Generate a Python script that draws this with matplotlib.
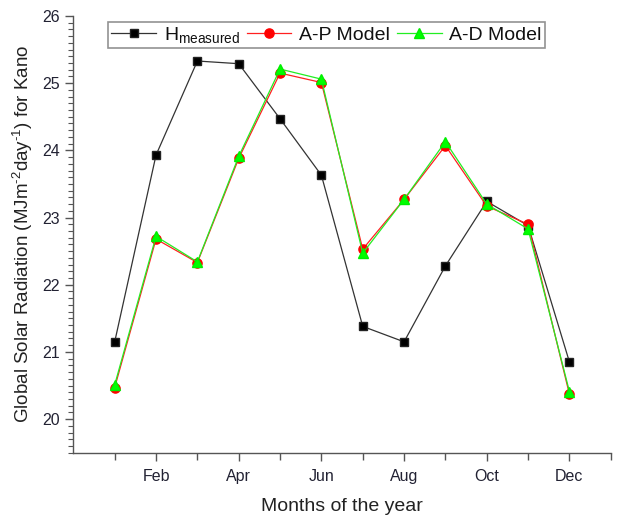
import matplotlib
matplotlib.use("Agg")
import matplotlib.pyplot as plt
from matplotlib.ticker import MultipleLocator, FixedLocator, FixedFormatter

plt.rcParams['font.family'] = ['Liberation Sans', 'DejaVu Sans']
plt.rcParams['mathtext.fontset'] = 'custom'
plt.rcParams['mathtext.rm'] = 'Liberation Sans'
plt.rcParams['mathtext.it'] = 'Liberation Sans'

months = [1, 2, 3, 4, 5, 6, 7, 8, 9, 10, 11, 12]
month_ticks = [2, 4, 6, 8, 10, 12]
month_labels = ["Feb", "Apr", "Jun", "Aug", "Oct", "Dec"]

h_measured = [21.15, 23.93, 25.33, 25.29, 24.47, 23.63, 21.38, 21.15, 22.28, 23.24, 22.88, 20.85]
ap_model = [20.47, 22.68, 22.33, 23.88, 25.15, 25.01, 22.53, 23.27, 24.07, 23.17, 22.90, 20.37]
ad_model = [20.51, 22.72, 22.34, 23.91, 25.21, 25.06, 22.47, 23.27, 24.13, 23.20, 22.83, 20.41]

fig = plt.figure(figsize=(6.18, 5.16), dpi=100)
ax = fig.add_axes([0.1187, 0.1227, 0.8696, 0.8463])

ax.plot(months, h_measured, color='#333333', lw=0.9, marker='s', ms=5.8,
        mfc='black', mec='#222222', label=r'H$_{\mathrm{measured}}$', zorder=3)
ax.plot(months, ap_model, color='#ff2020', lw=0.9, marker='o', ms=6.6,
        mfc='#ff0000', mec='#ff0000', label='A-P Model', zorder=4)
ax.plot(months, ad_model, color='#22ee22', lw=0.9, marker='^', ms=7.5,
        mfc='#00ff00', mec='#00ee00', label='A-D Model', zorder=5)

ax.set_xlim(0, 13)
ax.set_ylim(19.5, 26)
ax.xaxis.set_major_locator(FixedLocator(month_ticks))
ax.xaxis.set_major_formatter(FixedFormatter(month_labels))
ax.xaxis.set_minor_locator(FixedLocator([1, 3, 5, 7, 9, 11, 13]))
ax.yaxis.set_major_locator(MultipleLocator(1))
ax.yaxis.set_minor_locator(MultipleLocator(0.1))

for s in ['top', 'right']:
    ax.spines[s].set_visible(False)
for s in ['left', 'bottom']:
    ax.spines[s].set_color('#555555')
    ax.spines[s].set_linewidth(1.0)

ax.tick_params(axis='both', which='major', direction='out', length=6, width=1.0,
               color='#555555', labelsize=11.5, labelcolor='#222233')
ax.tick_params(axis='x', which='minor', direction='out', length=5, width=1.0, color='#555555')
ax.tick_params(axis='y', which='minor', direction='out', length=3.5, width=0.8, color='#555555')
ax.tick_params(axis='x', which='major', pad=6)

ax.set_xlabel('Months of the year', fontsize=14, color='#222222', labelpad=10)
ax.set_ylabel(r'Global Solar Radiation (MJm$^{\text{-}2}$day$^{\text{-}1}$) for Kano',
              fontsize=13.5, color='#222222', labelpad=5)

leg = ax.legend(loc='upper center', bbox_to_anchor=(0.471, 0.986), ncol=3, fontsize=14,
                frameon=True, fancybox=False, edgecolor='#777777', handlelength=2.3,
                handletextpad=0.4, columnspacing=0.35, borderpad=0.15, numpoints=1,
                borderaxespad=0)
leg.get_frame().set_linewidth(1.2)
for t in leg.get_texts():
    t.set_color('#111111')

fig.savefig('out.png', dpi=100)
